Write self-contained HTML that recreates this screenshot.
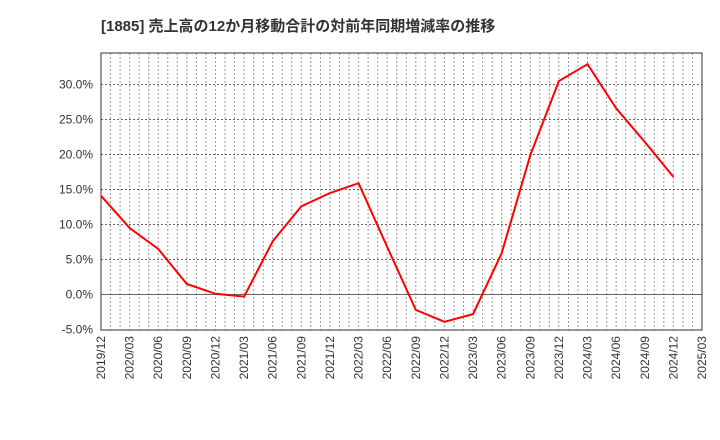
<!DOCTYPE html>
<html><head><meta charset="utf-8"><style>
body{margin:0;background:#fff;}
svg{display:block;font-family:"Liberation Sans","Noto Sans CJK JP",sans-serif;}
</style></head><body>
<svg id="c" width="720" height="440">
<text x="101" y="31" font-size="15" font-weight="bold" fill="#333">[1885]  売上高の12か月移動合計の対前年同期増減率の推移</text>
<g id="grid"></g><g id="axes"></g><g id="series"></g>
</svg>
<script>
const categories=["2019/12","2020/03","2020/06","2020/09","2020/12","2021/03","2021/06","2021/09","2021/12","2022/03","2022/06","2022/09","2022/12","2023/03","2023/06","2023/09","2023/12","2024/03","2024/06","2024/09","2024/12","2025/03"];
const values=[14.1,9.5,6.5,1.5,0.1,-0.3,7.6,12.6,14.5,15.9,6.8,-2.2,-3.9,-2.8,5.9,19.9,30.5,32.9,26.6,21.8,16.8];
const yTicks=[-5,0,5,10,15,20,25,30];
const L=101,R=702,T=53,B=330;
const ns="http://www.w3.org/2000/svg";
const x=i=>L+(R-L)*i/(categories.length-1);
const y=v=>294.5-v*7;
function mk(t,a,p){const e=document.createElementNS(ns,t);for(const k in a)e.setAttribute(k,a[k]);p.appendChild(e);return e;}
const g=document.getElementById('grid'),ax=document.getElementById('axes'),s=document.getElementById('series');
for(let m=1;m<(categories.length-1)*3;m++){const xx=L+(R-L)*m/((categories.length-1)*3);
const l=mk('line',{x1:xx,x2:xx,y1:T,y2:B,stroke:'#999','stroke-dasharray':'2,2','stroke-width':1},g);

}
yTicks.forEach(v=>{const yy=y(v);
if(v!==0&&v!==-5){const l=mk('line',{x1:L,x2:R,y1:yy,y2:yy,stroke:'#666','stroke-dasharray':'2,2'},g);

}
const t=mk('text',{x:L-8,y:yy+4,'text-anchor':'end','font-size':12,fill:'#333'},ax);t.textContent=v.toFixed(1)+'%';

});
const z=mk('line',{x1:L,x2:R,y1:y(0),y2:y(0),stroke:'#666'},ax);


const fr=mk('rect',{x:L,y:T,width:R-L,height:B-T,fill:'none',stroke:'#333'},ax);


categories.forEach((c,i)=>{const t=mk('text',{transform:`translate(${x(i)+4},${B+6}) rotate(-90)`,'text-anchor':'end','font-size':12,fill:'#333'},ax);t.textContent=c;

});
const p=mk('polyline',{points:values.map((v,i)=>x(i)+','+y(v)).join(' '),fill:'none',stroke:'#f00','stroke-width':2},s);


</script>
</body></html>
